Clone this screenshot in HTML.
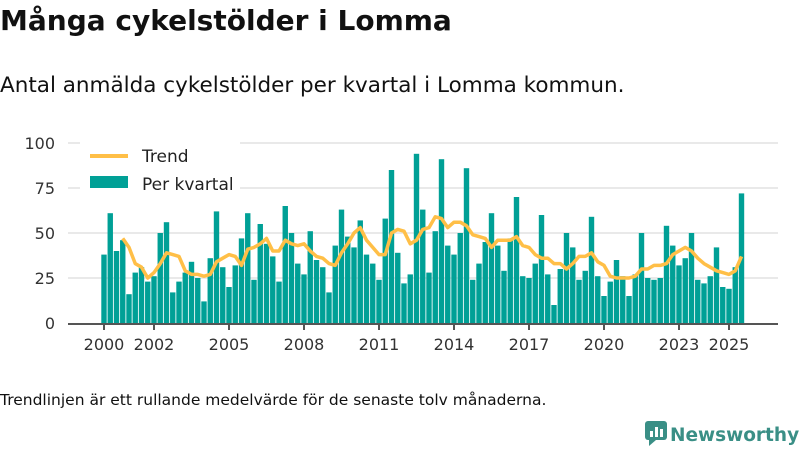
<!DOCTYPE html>
<html><head><meta charset="utf-8"><style>
body{margin:0;width:800px;height:450px;background:#fff;font-family:"Liberation Sans","DejaVu Sans",sans-serif;color:#111;overflow:hidden;position:relative}
.t{position:absolute;white-space:nowrap}
</style></head><body>
<div class="t" style="left:0;top:4px;font-size:28px;font-weight:bold;font-family:'DejaVu Sans',sans-serif">Många cykelstölder i Lomma</div>
<div class="t" style="left:0;top:73px;font-size:21.5px;font-family:'DejaVu Sans',sans-serif">Antal anmälda cykelstölder per kvartal i Lomma kommun.</div>
<svg id="chart" width="800" height="450" style="position:absolute;left:0;top:0" font-family="DejaVu Sans, sans-serif"></svg>
<div class="t" style="left:0;top:391px;font-size:15.5px;font-family:'DejaVu Sans',sans-serif">Trendlinjen är ett rullande medelvärde för de senaste tolv månaderna.</div>
<div class="t" style="left:644px;top:420px;font-size:18.5px;font-weight:bold;color:#3a8f86;font-family:'DejaVu Sans',sans-serif">
<svg width="26" height="26" style="vertical-align:-5px"><rect x="1" y="1" width="22" height="19" rx="3" fill="#3a8f86"/><polygon points="5,20 12,20 5,26" fill="#3a8f86"/><rect x="6" y="11" width="3" height="6" fill="#fff"/><rect x="11" y="7" width="3" height="10" fill="#fff"/><rect x="16" y="9" width="3" height="8" fill="#fff"/></svg>Newsworthy</div>
<script>
const bars=[38,61,40,46,16,28,31,23,26,50,56,17,23,28,34,25,12,36,62,31,20,32,47,61,24,55,44,37,23,65,50,33,27,51,35,31,17,
43,63,48,42,57,38,33,24,58,85,39,22,27,94,63,28,51,91,43,38,50,86,24,33,45,61,43,29,47,70,26,25,33,60,27,10,
30,50,42,24,29,59,26,15,23,35,26,15,27,50,25,24,25,54,43,32,36,50,24,22,26,42,20,19,31,72];
const trendStart=3;
const trend=[47,42,33,31,25,28,33,39,38,37,29,27,27,26,27,34,36,38,37,32,41,42,44,47,40,40,46,44,43,44,40,37,36,33,
32,39,44,50,53,46,42,38,38,50,52,51,44,46,52,53,59,58,53,56,56,54,49,48,47,42,46,46,46,48,43,42,38,36,36,33,
33,30,33,37,37,39,34,32,26,25,25,25,26,30,30,32,32,33,38,40,42,40,36,33,31,29,28,27,29,37];
const yTicks=[0,25,50,75,100];
const xYears=[2000,2002,2005,2008,2011,2014,2017,2020,2023,2025];
const NS='http://www.w3.org/2000/svg',svg=document.getElementById('chart');
const x=i=>104+6.25*i, y=v=>323-1.8*v, xy=yr=>x((yr-2000)*4);
function mk(t,a){const e=document.createElementNS(NS,t);for(const k in a)e.setAttribute(k,a[k]);svg.appendChild(e);return e;}
yTicks.forEach(v=>{
 if(v>0){const g=mk('line',{x1:68,x2:778,y1:y(v),y2:y(v),stroke:'#e2e2e2','stroke-width':1.5});
 
 }
 const t=mk('text',{x:55,y:y(v)+6,'text-anchor':'end','font-size':16,fill:'#333'});t.textContent=v;
 
 
});
bars.forEach((v,i)=>{const r=mk('rect',{x:x(i)-2.7,y:y(v),width:5.4,height:323-y(v),fill:'#00a096'});
 
 });
const ax=mk('line',{x1:68,x2:778,y1:324,y2:324,stroke:'#555','stroke-width':2});


xYears.forEach(yr=>{const k=mk('line',{x1:xy(yr),x2:xy(yr),y1:324,y2:330,stroke:'#555','stroke-width':2});
 
 
 const t=mk('text',{x:xy(yr),y:350,'text-anchor':'middle','font-size':16,fill:'#333'});t.textContent=yr;
 
 });
const p=mk('polyline',{points:trend.map((v,i)=>x(i+trendStart)+','+y(v)).join(' '),fill:'none',stroke:'#ffbf47','stroke-width':3.5,'stroke-linejoin':'round'});


const lb=mk('rect',{x:80,y:140,width:160,height:58,fill:'#fff'});


const l1=mk('line',{x1:90,x2:128,y1:156,y2:156,stroke:'#ffbf47','stroke-width':4});


const t1=mk('text',{x:142,y:162,'font-size':17,fill:'#222'});t1.textContent='Trend';


const l2=mk('rect',{x:90,y:176,width:38,height:12,fill:'#00a096'});


const t2=mk('text',{x:142,y:190,'font-size':17,fill:'#222'});t2.textContent='Per kvartal';


</script>
</body></html>
